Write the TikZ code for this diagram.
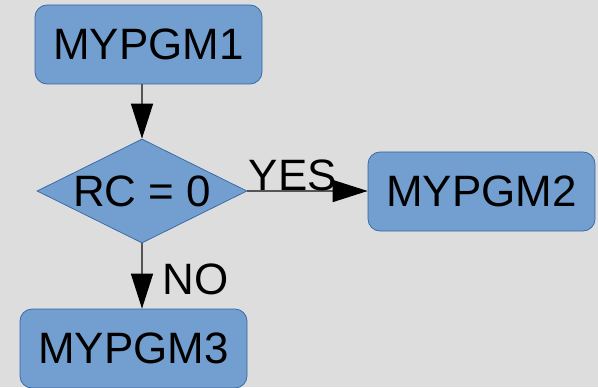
\documentclass[tikz,border=0pt]{standalone}
\usepackage{fontspec}
\setmainfont{Liberation Sans}
\usetikzlibrary{shapes.geometric,arrows.meta}

\definecolor{bgray}{HTML}{DDDDDD}
\definecolor{boxfill}{HTML}{729FCF}
\definecolor{boxline}{HTML}{3465A4}
\definecolor{wire}{HTML}{555555}

\tikzset{
  pgmbox/.style={draw=boxline, fill=boxfill, rounded corners=0.24cm,
    minimum width=4.54cm, minimum height=1.58cm, inner sep=0pt},
  test/.style={draw=boxline, fill=boxfill, diamond, aspect=2.02,
    minimum width=4.2cm, minimum height=2.08cm, inner sep=0pt},
  flow/.style={draw=wire, line width=0.8pt,
    -{Triangle[length=0.7cm, width=0.44cm, color=black, fill=black]}},
  lbl/.style={inner sep=0pt}
}

\begin{document}
\begin{tikzpicture}[every node/.style={font=\fontsize{25}{30}\selectfont}]
  % background, 598 x 387 px at 0.02cm per px
  \fill[bgray] (0,0) rectangle (11.96,-7.74);
  \useasboundingbox (0,0) rectangle (11.96,-7.74);

  % the boxes and the test
  \node[pgmbox] (pgm1) at (2.97,-0.89) {MYPGM1};
  \node[test]   (rc)   at (2.84,-3.82) {RC = 0};
  \node[pgmbox] (pgm2) at (9.63,-3.83) {MYPGM2};
  \node[pgmbox] (pgm3) at (2.67,-6.97) {MYPGM3};

  % connectors
  \draw[flow] (rc.north |- pgm1.south) -- (rc.north);
  \draw[flow] (rc.east) -- (pgm2.west |- rc.east);
  \draw[flow] (rc.south) -- (rc.south |- pgm3.north);

  % branch labels
  \node[lbl, anchor=base west] (yes) at ([xshift=0.02cm,yshift=0.02cm]rc.east) {YES};
  \node[lbl, anchor=west] (no) at ([xshift=0.4cm,yshift=-0.72cm]rc.south) {NO};
\end{tikzpicture}
\end{document}
